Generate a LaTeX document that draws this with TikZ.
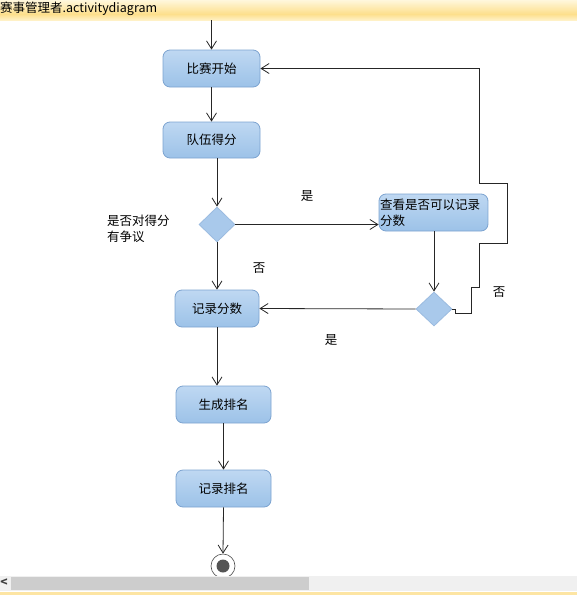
\documentclass[tikz,border=0pt]{standalone}
\usepackage{fontspec}
\setmainfont{Noto Sans CJK SC}
\usetikzlibrary{arrows.meta,shapes.geometric}
\definecolor{BoxTop}{HTML}{BFD8F2}
\definecolor{BoxBot}{HTML}{9CC2E8}
\definecolor{BoxLine}{HTML}{7CA3D0}
\definecolor{DiaFill}{HTML}{A9C9EB}
\definecolor{DiaLine}{HTML}{9BBBE0}
\definecolor{BarLight}{HTML}{FFF7DC}
\definecolor{BarYellow}{HTML}{FDDF8C}
\definecolor{BarPale}{HTML}{FFF1C6}
\definecolor{ScrollBack}{HTML}{F0F0F0}
\definecolor{ScrollThumb}{HTML}{CDCDCD}
\definecolor{DotClr}{HTML}{545454}

\begin{document}
\begin{tikzpicture}[x=1pt,y=1pt,
  every node/.style={font=\fontsize{12.5}{15}\selectfont},
  act/.style={draw=BoxLine,line width=.8pt,rounded corners=7pt,top color=BoxTop,bottom color=BoxBot,
    minimum height=37pt,inner sep=1pt},
  choice/.style={diamond,draw=DiaLine,line width=.8pt,fill=DiaFill,minimum width=36pt,minimum height=35pt,
    inner sep=0pt,aspect=1},
  flow/.style={line width=.8pt,color=black!85,-{Straight Barb[length=8pt,width=10pt]}},
  guard/.style={inner sep=0pt}]
\useasboundingbox (0,0) rectangle (577,-600);

% title bar
\shade[top color=BarLight,bottom color=BarYellow] (0,0) rectangle (577,-14);
\shade[top color=BarYellow,bottom color=BarPale] (0,-14) rectangle (577,-20);
\node[anchor=west,inner sep=0pt,font=\fontsize{12.5}{14}\selectfont] (title) at (0,-9) {赛事管理者.activitydiagram};

% activities
\coordinate (entry) at (211.5,-20);
\node[act,minimum width=97pt] (start) at (211.5,-68.5) {比赛开始};
\node[act,minimum width=97pt,minimum height=36pt] (score) at (211.5,-140) {队伍得分};
\node[choice] (d1) at (217,-224.5) {};
\node[act,minimum width=109pt,text width=107pt,align=left,inner xsep=1pt,inner ysep=0pt] (check) at (433.5,-212.5)
  {查看是否可以记录\\[1pt]分数};
\node[choice,minimum width=36pt,minimum height=34pt] (d2) at (434,-309) {};
\node[act,minimum width=84pt] (record) at (217,-308.5) {记录分数};
\node[act,minimum width=95pt] (rank) at (223.5,-404.5) {生成排名};
\node[act,minimum width=95pt] (saverank) at (223.5,-488.5) {记录排名};
\node[circle,draw=black!70,line width=.6pt,minimum size=24pt,inner sep=0pt] (final) at (223,-566) {};
\fill[DotClr] (final.center) circle (6.5);

% guards
\node[guard,anchor=west,align=left] (ask) at (107,-229) {是否对得分\\[1pt]有争议};
\node[guard] (yes1) at (307,-196) {是};
\node[guard] (no1) at (259,-268) {否};
\node[guard] (yes2) at (331,-340) {是};
\node[guard] (no2) at (499,-292) {否};

% flows
\draw[flow] (entry) -- (start.north);
\draw[flow] (start.south) -- (score.north);
\draw[flow] (score.south -| d1) -- (d1.north);
\draw[flow] (d1.east) -- (d1.east -| check.west);
\draw[flow] (d1.south) -- (record.north);
\draw[flow] (check.south -| d2) -- (d2.north);
\draw[flow] (d2.west) -- (record.east);
\draw[flow] (d2.east) -- ++(3,0) -- ++(0,-4) -- ++(16,0) -- ++(0,26) -- ++(8,0) -- ++(0,44)
  -- ++(28,0) -- ++(0,60) -- ++(-28,0) |- (start.east);
\draw[flow] (record.south) -- (record.south |- rank.north);
\draw[flow] (rank.south) -- (saverank.north);
\draw[flow] (saverank.south) -- (final.north);

% scroll bar
\fill[ScrollBack] (0,-576) rectangle (577,-590.5);
\fill[ScrollThumb] (11,-577) rectangle (309,-590);
\node[inner sep=0pt,font=\fontsize{12}{12}\selectfont\bfseries,text=black!75] (left) at (4,-583) {<};
\fill[BarYellow!80] (0,-591.5) rectangle (577,-595);
\end{tikzpicture}
\end{document}
